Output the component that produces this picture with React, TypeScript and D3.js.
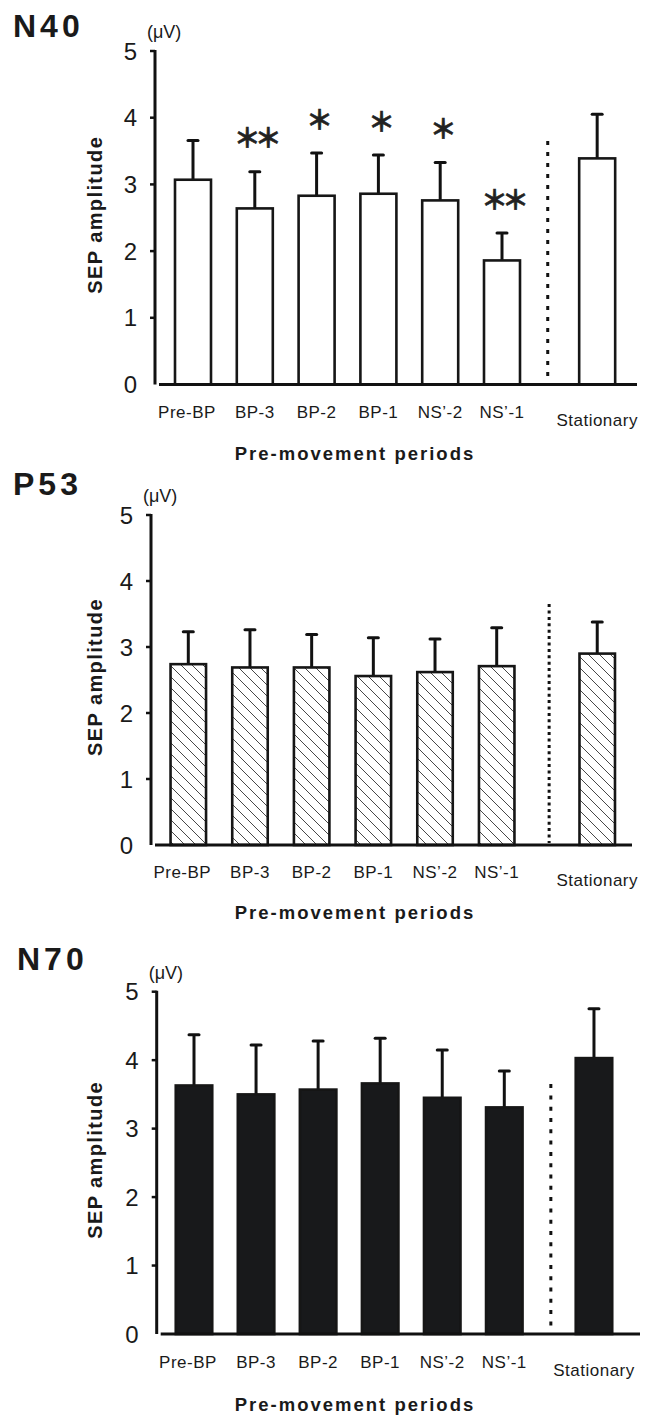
import * as d3 from 'd3';

// categories & values
const categories = ['Pre-BP', 'BP-3', 'BP-2', 'BP-1', 'NS’-2', 'NS’-1', 'Stationary'];

const n40Mean = [3.07, 2.64, 2.83, 2.86, 2.76, 1.86, 3.39];
const n40Sd = [0.59, 0.55, 0.64, 0.58, 0.57, 0.41, 0.66];
const n40Sig = ['', '**', '*', '*', '*', '**', ''];

const p53Mean = [2.74, 2.69, 2.69, 2.56, 2.62, 2.71, 2.9];
const p53Sd = [0.49, 0.57, 0.5, 0.58, 0.5, 0.58, 0.48];

const n70Mean = [3.63, 3.5, 3.57, 3.66, 3.45, 3.31, 4.03];
const n70Sd = [0.74, 0.72, 0.71, 0.66, 0.7, 0.53, 0.72];

const yTicks = [0, 1, 2, 3, 4, 5];
const xTitle = 'Pre-movement periods';
const yTitle = 'SEP amplitude';
const unit = '(μV)';
const separatorTop = 3.65;

const FONT = "'Liberation Sans', Arial, Helvetica, sans-serif";

const panels = [
	{
		name: 'N40', mean: n40Mean, sd: n40Sd, sig: n40Sig, fill: 'white',
		top: 51, bottom: 384.5, axisX: 155, xEnd: 637,
		first: 193, sixth: 502, statSlot: 6.54, sepSlot: 5.74,
		titleY: 37, titleX: 13, dash: '4,7', barW: 36,
	},
	{
		name: 'P53', mean: p53Mean, sd: p53Sd, sig: null, fill: 'url(#hatch)',
		top: 515, bottom: 845, axisX: 151, xEnd: 632,
		first: 188.3, sixth: 496.7, statSlot: 6.63, sepSlot: 5.85,
		titleY: 495, titleX: 13, dash: '3,3.4', barW: 35.5,
	},
	{
		name: 'N70', mean: n70Mean, sd: n70Sd, sig: null, fill: '#18191b',
		top: 991.7, bottom: 1334, axisX: 156.7, xEnd: 640,
		first: 194, sixth: 504.3, statSlot: 6.445, sepSlot: 5.75,
		titleY: 970, titleX: 17, dash: '4,7.3', barW: 36.5,
	},
];

const slots = [0, 1, 2, 3, 4, 5];

function Panel({ p }) {
	const y = d3.scaleLinear().domain([0, 5]).range([p.bottom, p.top]);
	const x = d3.scaleLinear().domain([0, 5]).range([p.first, p.sixth]);
	const unitPx = (p.bottom - p.top) / 5;
	const k = unitPx / 66.7;
	const pos = (i) => x(i < 6 ? slots[i] : p.statSlot);
	const midY = (p.top + p.bottom) / 2;

	return (
		<g>
			{/* panel title */}
			<text x={p.titleX} y={p.titleY} fontSize={32} fontWeight='bold'
				letterSpacing={4} fontFamily={FONT} fill='#1a1a1a'>
				{p.name}
			</text>
			<text x={p.axisX - 8} y={p.top - 19} dy='0.35em' fontSize={18}
				fontFamily={FONT} fill='#1a1a1a'>
				{unit}
			</text>

			{/* y axis */}
			<line x1={p.axisX} x2={p.axisX} y1={p.top - 1} y2={p.bottom}
				stroke='#111' strokeWidth={3} />
			{yTicks.map((t) => (
				<g key={t}>
					{t > 0 && (
						<line x1={p.axisX - 5} x2={p.axisX} y1={y(t)} y2={y(t)}
							stroke='#111' strokeWidth={2.5} />
					)}
					<text x={p.axisX - 18} y={y(t)} dy='0.36em' textAnchor='end'
						fontSize={24} fontFamily={FONT} fill='#1a1a1a'>
						{t}
					</text>
				</g>
			))}
			<text transform={`translate(${102},${midY - 3}) rotate(-90)`}
				textAnchor='middle' fontSize={20} fontWeight='bold'
				letterSpacing={1.4} fontFamily={FONT} fill='#1a1a1a'>
				{yTitle}
			</text>

			{/* bars */}
			{p.mean.map((m, i) => {
				const cx = pos(i);
				const errTop = y(m + p.sd[i]);
				return (
					<g key={i}>
						<line x1={cx} x2={cx} y1={y(m)} y2={errTop}
							stroke='#111' strokeWidth={3} />
						<line x1={cx - 5} x2={cx + 5} y1={errTop} y2={errTop}
							stroke='#111' strokeWidth={3} strokeLinecap='round' />
						<rect x={cx - p.barW / 2} y={y(m)} width={p.barW}
							height={p.bottom - y(m)} fill={p.fill}
							stroke='#161616' strokeWidth={2.6} />
						{p.sig && p.sig[i] && (
							<text x={cx} y={errTop - 33} dy='0.35em' textAnchor='middle'
								fontSize={27} fontWeight='bold' letterSpacing={-6}
								stroke='#222' strokeWidth={0.6}
								fontFamily="'Noto Sans CJK JP', sans-serif" fill='#222'>
								{p.sig[i] === '**' ? '＊＊' : '＊'}
							</text>
						)}
					</g>
				);
			})}

			{/* separator */}
			<line x1={x(p.sepSlot)} x2={x(p.sepSlot)} y1={y(separatorTop)}
				y2={p.bottom - 2} stroke='#111' strokeWidth={3}
				strokeDasharray={p.dash} />

			{/* x axis */}
			<line x1={p.axisX + 4} x2={p.xEnd} y1={p.bottom} y2={p.bottom}
				stroke='#111' strokeWidth={3} />
			{categories.map((c, i) => (
				<text key={c} x={pos(i) - (i === 0 ? 6 : 0)}
					y={p.bottom + (i === 6 ? 41 : 33) * k}
					textAnchor='middle' fontSize={17} letterSpacing={0.5}
					fontFamily={FONT} fill='#1a1a1a'>
					{c}
				</text>
			))}
			<text x={355} y={p.bottom + 75 * k} textAnchor='middle' fontSize={18.5}
				fontWeight='bold' letterSpacing={2} fontFamily={FONT} fill='#1a1a1a'>
				{xTitle}
			</text>
		</g>
	);
}

export default function App() {
	return (
		<div style={{ position: 'absolute', left: 0, top: 0 }}>
			<svg width={645} height={1416} style={{ display: 'block', background: 'white' }}>
				<defs>
					<pattern id='hatch' patternUnits='userSpaceOnUse' width={11} height={11}>
						<rect width={11} height={11} fill='white' />
						<path d='M-1,-1 L12,12 M-1,10 L1,12 M10,-1 L12,1'
							stroke='#333' strokeWidth={0.9} />
					</pattern>
				</defs>
				{panels.map((p) => (
					<Panel key={p.name} p={p} />
				))}
			</svg>
		</div>
	);
}
